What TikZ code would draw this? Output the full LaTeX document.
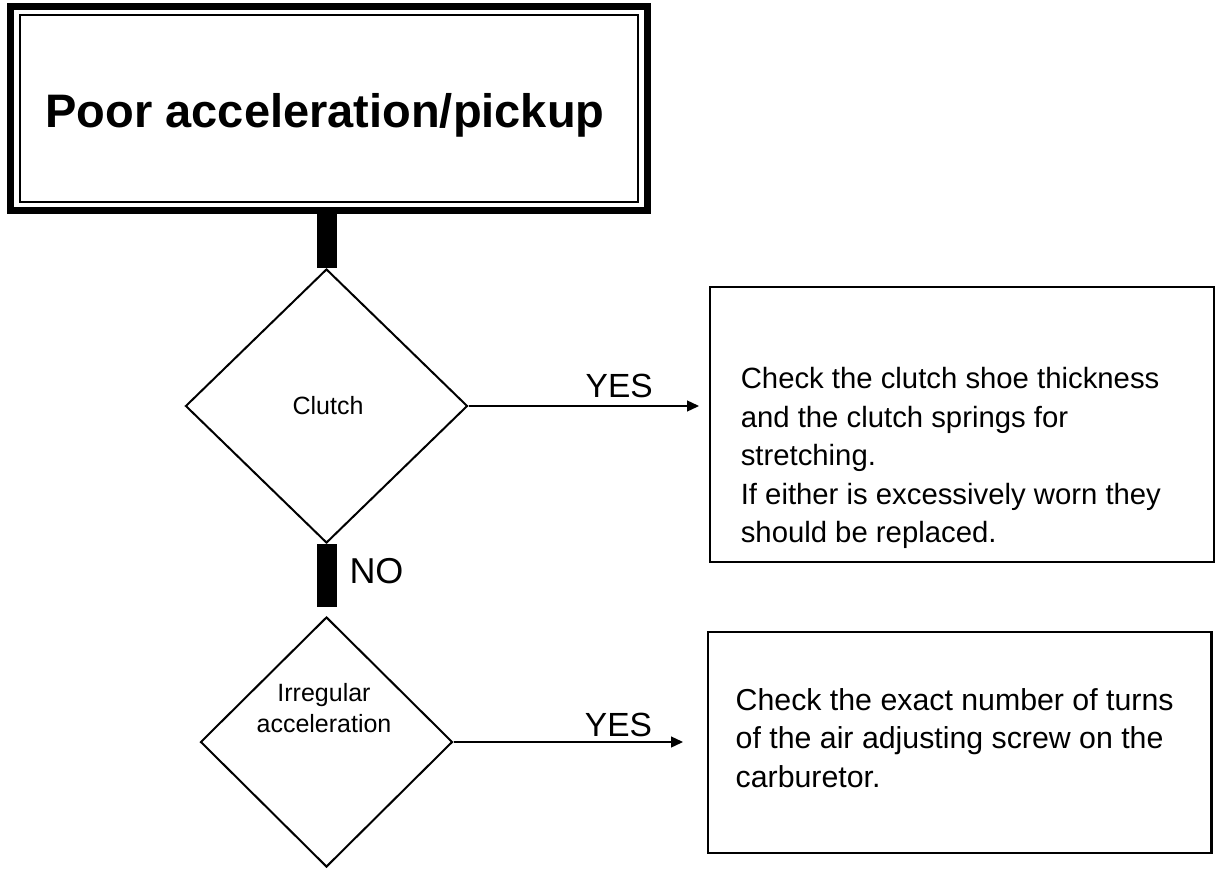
\documentclass[tikz,border=0pt]{standalone}
\usepackage{fontspec}
\setmainfont{Liberation Sans}
\usetikzlibrary{shapes.geometric,arrows.meta}
\begin{document}
\begin{tikzpicture}[x=1pt,y=-1pt,
  titlebox/.style={draw, rectangle, line width=7pt, minimum width=636.3pt, minimum height=203.8pt, inner sep=0pt, outer sep=0pt},
  innerframe/.style={line width=1.6pt},
  decision/.style={draw, shape=diamond, line width=2pt, inner sep=0pt},
  actionbox/.style={draw, rectangle, line width=2.5pt, inner sep=0pt, outer sep=0pt},
  bar/.style={line width=20pt},
  yesarrow/.style={line width=1.3pt, -{Triangle[length=12pt,width=11pt]}},
  edgelbl/.style={inner sep=0pt, font=\fontsize{33.5}{40}\selectfont},
  nolbl/.style={inner sep=0pt, font=\fontsize{36}{43}\selectfont},
  dectext/.style={inner sep=0pt, align=center, font=\fontsize{25}{31}\selectfont},
  boxtext/.style={inner sep=0pt, align=left}
]
\useasboundingbox (0,0) rectangle (1215,869);

% title
\node[titlebox, label={[inner sep=0pt, anchor=base, xshift=-3.8pt, yshift=-6.4pt, font=\bfseries\fontsize{47}{56}\selectfont]center:Poor acceleration/pickup}] (title) at (328.85,108.6) {};
\draw[innerframe] ([xshift=9.3pt,yshift=-8.3pt]title.north west) rectangle ([xshift=-9pt,yshift=8.5pt]title.south east);

% decisions
\node[decision, minimum width=282pt, minimum height=274pt,
      label={[dectext, anchor=base, xshift=1.5pt]center:Clutch}] (d1) at (326.5,406) {};
\node[decision, minimum width=252pt, minimum height=250pt,
      label={[dectext, anchor=north, xshift=-2.5pt, yshift=34pt]center:Irregular\\acceleration}] (d2) at (326.5,742) {};

% action boxes
\node[actionbox, minimum width=504pt, minimum height=275pt,
      label={[boxtext, anchor=north west, xshift=30.6pt, yshift=-80.5pt, font=\fontsize{29.3}{38.5}\selectfont]north west:Check the clutch shoe thickness\\and the clutch springs for\\stretching.\\If either is excessively worn they\\should be replaced.}] (b1) at (962,424.5) {};
\node[actionbox, minimum width=503.5pt, minimum height=221pt,
      label={[boxtext, anchor=north west, xshift=27.5pt, yshift=-56pt, font=\fontsize{30.3}{38.5}\selectfont]north west:Check the exact number of turns\\of the air adjusting screw on the\\carburetor.}] (b2) at (959.75,742.5) {};

% connectors
\draw[bar] (d1.north |- title.south) -- (d1.north);
\draw[bar, shorten >=9pt] (d1.south) -- node[nolbl, pos=0.552, anchor=base west, xshift=13pt]{NO} (d2.north);
\draw[yesarrow, shorten >=11pt] (d1.east) -- node[edgelbl, pos=0.624, anchor=base, yshift=9pt]{YES} (d1.east -| b1.west);
\draw[yesarrow, shorten >=25pt] (d2.east) -- node[edgelbl, pos=0.648, anchor=base, yshift=6pt]{YES} (d2.east -| b2.west);
\end{tikzpicture}
\end{document}
